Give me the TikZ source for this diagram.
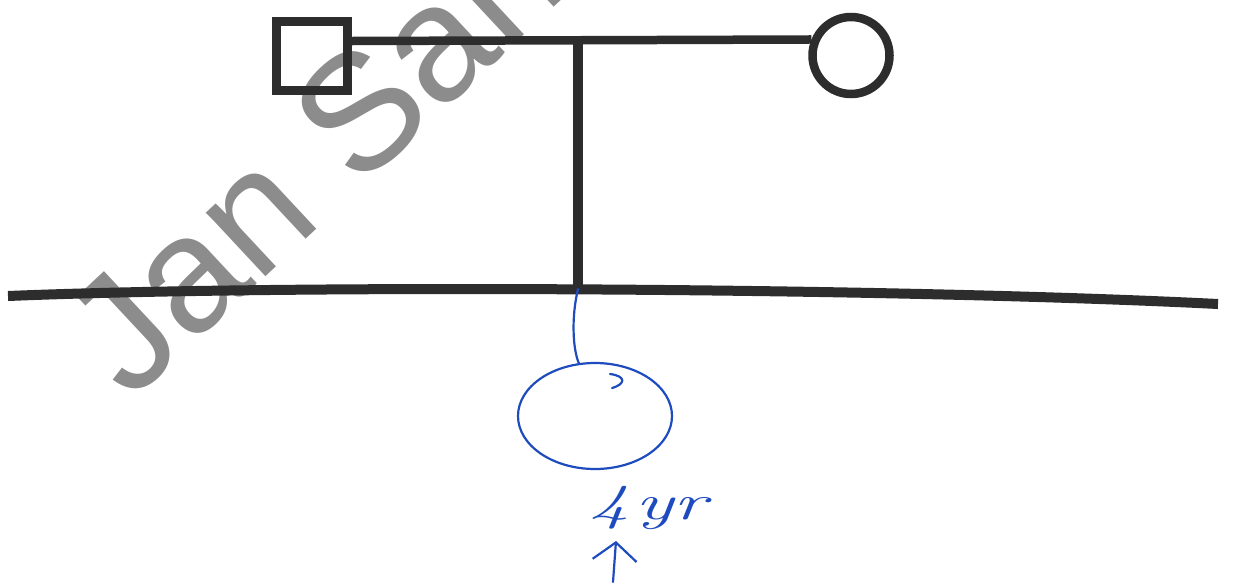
\documentclass[tikz,border=0pt]{standalone}
\usepackage{fontspec}
\newfontfamily\wmfont{Liberation Sans}
\usetikzlibrary{shapes.geometric,arrows.meta}
\definecolor{ink}{RGB}{45,45,45}
\definecolor{pen}{RGB}{30,75,190}
\definecolor{wm}{RGB}{140,140,140}
\tikzset{
  pedline/.style={draw=ink, line width=8.5pt},
  penline/.style={draw=pen, line width=2.2pt, line cap=round, line join=round},
  watermark/.style={text=wm, font=\wmfont\fontsize{165}{165}\selectfont, rotate=43, anchor=base west, inner sep=0pt},
}
\begin{document}
\begin{tikzpicture}[x=1pt, y=-1pt]
\useasboundingbox (0,0) rectangle (1233,582);
% watermark
\begin{scope}
\clip (0,0) rectangle (1233,582);
\node[watermark] (wmark) at (130,403) {Jan San};
\end{scope}
% parents
\node[pedline, rectangle, minimum width=71pt, minimum height=69pt, inner sep=0pt] (father) at (312,56) {};
\node[pedline, circle, minimum size=77pt, inner sep=0pt] (mother) at (851,55.5) {};
\coordinate (m) at (578,41);
\draw[pedline] (father.east |- m) -- (mother.158);
% sibship line
\coordinate (sl) at (8,296);
\coordinate (sr) at (1218,304);
\coordinate (s) at (578,289);
\draw[pedline, line width=9.5pt] (m) -- (s);
\draw[pedline, line width=10pt] (sl) .. controls (300,284) and (900,288) .. (sr);
% child
\node[penline, ellipse, minimum width=154pt, minimum height=106pt, inner sep=0pt] (child) at (595,416) {};
\draw[penline] (s) .. controls (571,318) and (573,350) .. (child.107);
\draw[penline] (610,374) .. controls (626,376) and (626,384) .. (612,388);
\node[text=pen, font=\fontsize{50}{50}\selectfont\itshape, xscale=1.6, inner sep=0pt] (age) at (648,508) {4\hspace{4pt}yr};
\coordinate (ptail) at (613,582);
\coordinate (ptip) at (616,541);
\draw[penline, -{Straight Barb[length=18pt,width=44pt]}] (ptail) -- (ptip);
\end{tikzpicture}
\end{document}
